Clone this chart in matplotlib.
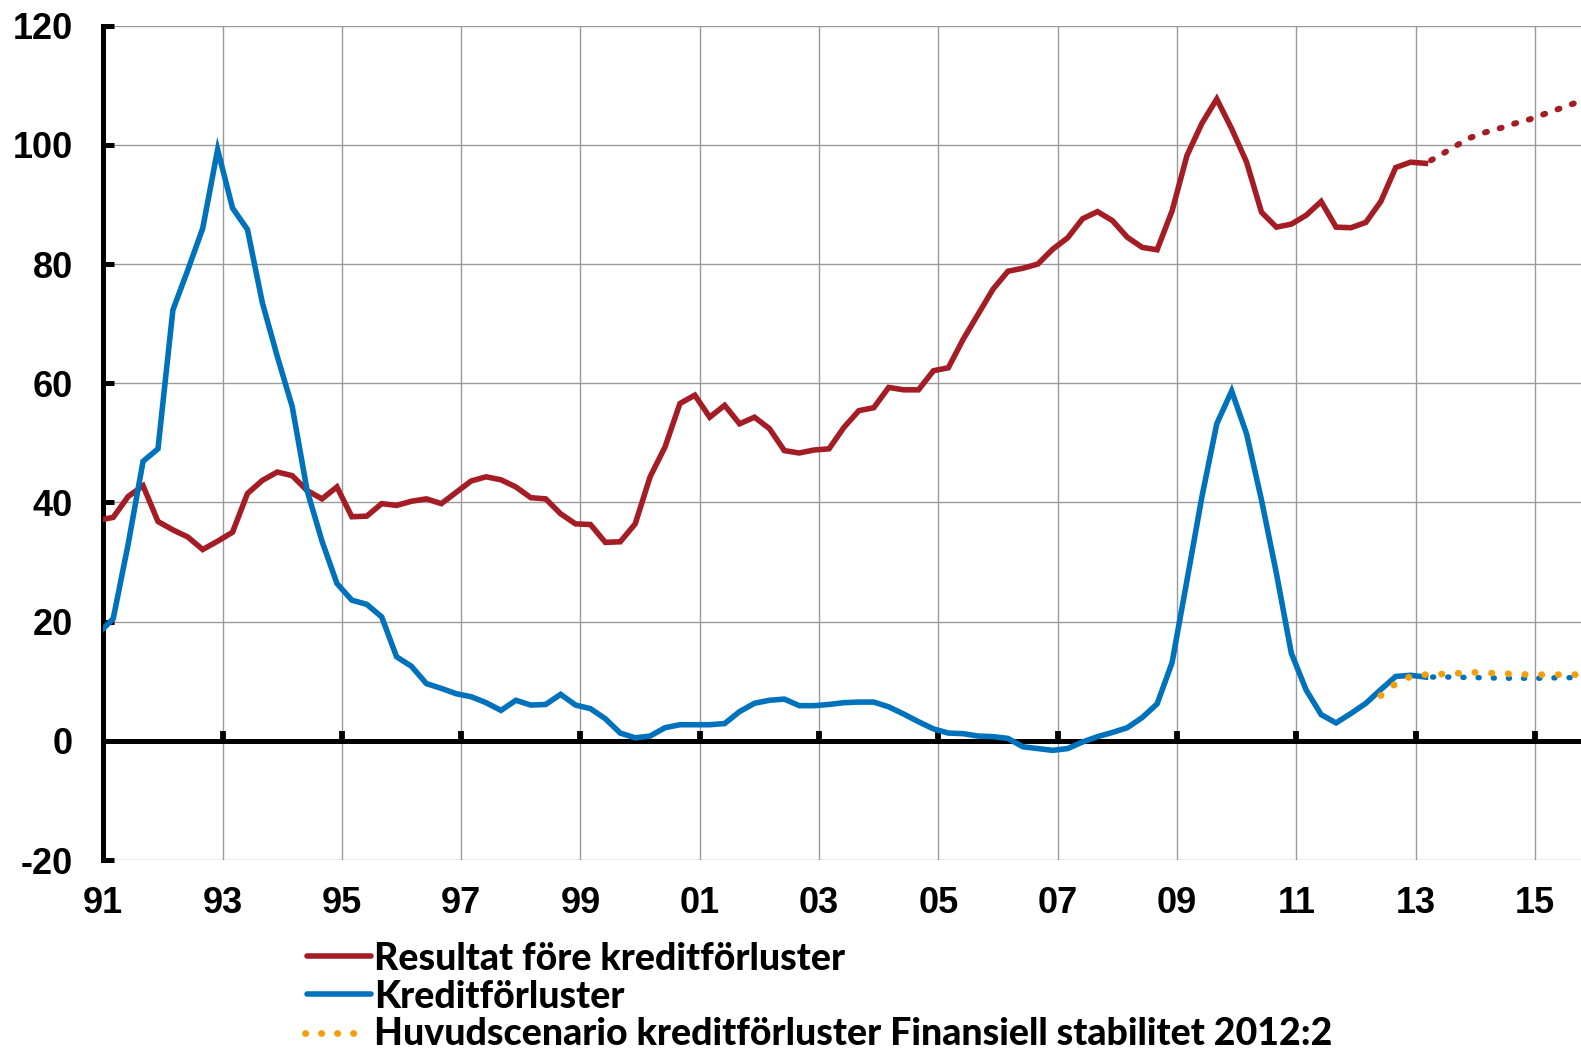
import numpy as np
import matplotlib

matplotlib.use("Agg")
import matplotlib.pyplot as plt  # noqa: E402
from matplotlib.lines import Line2D  # noqa: E402

RED = "#A51D24"
BLUE = "#0072BC"
ORANGE = "#F59D0A"
GRID = "#9A9A9A"
TICK_FONT = ["Liberation Sans", "DejaVu Sans"]
LEG_FONT = ["Lato", "DejaVu Sans"]

# quarterly series, first value 1990 Q4 (plotted at the quarter's last month)
resultat = [
    37.0, 37.5, 41.0, 42.8, 36.8, 35.4, 34.2, 32.1, 33.5, 35.0,
    41.5, 43.7, 45.1, 44.5, 42.0, 40.6, 42.6, 37.6, 37.7, 39.8,
    39.5, 40.2, 40.6, 39.8, 41.7, 43.6, 44.3, 43.8, 42.6, 40.8,
    40.6, 38.1, 36.4, 36.3, 33.3, 33.4, 36.4, 44.3, 49.3, 56.6,
    58.0, 54.3, 56.3, 53.2, 54.3, 52.4, 48.7, 48.3, 48.8, 49.0,
    52.6, 55.4, 55.9, 59.3, 58.9, 58.9, 62.1, 62.6, 67.4, 71.6,
    75.8, 78.8, 79.3, 80.0, 82.5, 84.4, 87.6, 88.8, 87.3, 84.5,
    82.8, 82.4, 88.9, 98.2, 103.6, 107.7, 102.7, 97.1, 88.7, 86.2,
    86.7, 88.2, 90.5, 86.2, 86.1, 87.0, 90.5, 96.2, 97.1, 96.9,
]
kredit = [
    18.0, 20.5, 33.0, 46.9, 49.0, 72.3, 79.0, 86.0, 99.2, 89.4,
    85.8, 73.5, 64.5, 56.1, 42.0, 33.5, 26.4, 23.6, 22.9, 20.8,
    14.1, 12.5, 9.6, 8.8, 7.9, 7.4, 6.4, 5.1, 6.8, 6.0,
    6.1, 7.8, 6.0, 5.4, 3.7, 1.3, 0.5, 0.8, 2.2, 2.7,
    2.7, 2.7, 2.9, 4.9, 6.3, 6.8, 7.0, 5.9, 5.9, 6.1,
    6.4, 6.5, 6.5, 5.7, 4.5, 3.2, 2.0, 1.3, 1.2, 0.8,
    0.7, 0.4, -1.0, -1.3, -1.6, -1.3, -0.2, 0.7, 1.4, 2.2,
    3.9, 6.2, 13.1, 26.9, 40.9, 53.2, 58.7, 51.5, 40.4, 28.1,
    14.7, 8.5, 4.4, 3.0, 4.6, 6.3, 8.6, 10.8, 11.0, 10.7,
]
# forecasts, first value 2013 Q1
resultat_prognos = [96.9, 98.3, 99.8, 101.2, 102.1, 102.8, 103.6, 104.3,
                    105.2, 106.1, 107.0, 107.8]
kredit_prognos = [10.7, 10.7, 10.7, 10.6, 10.6, 10.5, 10.5, 10.5,
                  10.5, 10.6, 10.6, 10.6]
# Finansiell stabilitet 2012:2, first value 2012 Q2
fs_scenario = [7.6, 9.6, 10.8, 11.1, 11.2, 11.3, 11.5, 11.4, 11.3,
               11.2, 11.1, 11.1, 11.1, 11.1, 11.1]

year_ticks = list(range(1991, 2016, 2))
y_ticks = [-20, 0, 20, 40, 60, 80, 100, 120]

labels = ["Resultat före kreditförluster", "Kreditförluster",
          "Huvudscenario kreditförluster Finansiell stabilitet 2012:2"]


def quarter_pos(year, quarter, n):
    start = year + (3 * quarter - 1) / 12
    return start + 0.25 * np.arange(n)


def main():
    plt.rcParams.update({
        "font.family": TICK_FONT, "font.weight": "bold", "font.size": 26,
    })
    W, H = 1581, 1048
    fig = plt.figure(figsize=(W / 100, H / 100), dpi=100)
    ax = fig.add_axes([103.3 / W, 1 - 860 / H, (W - 103.3) / W, (860 - 25.7) / H])

    dotted = dict(dash_capstyle="round", solid_capstyle="round")
    ax.plot(quarter_pos(1990, 4, len(resultat)), resultat, color=RED, lw=4.0,
            solid_joinstyle="miter", zorder=3)
    ax.plot(quarter_pos(2013, 1, len(resultat_prognos)), resultat_prognos, color=RED,
            lw=4.3, ls=(1.5, (0.35, 2.2)), zorder=3, **dotted)
    ax.plot(quarter_pos(1990, 4, len(kredit)), kredit, color=BLUE, lw=4.0,
            solid_joinstyle="miter", zorder=4)
    ax.plot(quarter_pos(2013, 1, len(kredit_prognos)), kredit_prognos, color=BLUE,
            lw=3.9, ls=(1.5, (0.2, 2.6)), zorder=4, **dotted)
    ax.plot(quarter_pos(2012, 2, len(fs_scenario)), fs_scenario, color=ORANGE,
            lw=4.9, ls=(0, (0.05, 2.4)), zorder=5, **dotted)

    ax.set_xlim(1991, 1991 + (W - 103.3) / 59.65)
    ax.set_ylim(-20, 120)
    ax.set_xticks(year_ticks)
    ax.set_xticklabels([f"{y % 100:02d}" for y in year_ticks],
                       fontsize=26, fontweight="bold", family=TICK_FONT)
    ax.set_yticks(y_ticks)
    ax.set_yticklabels([str(v) for v in y_ticks],
                       fontsize=26, fontweight="bold", family=TICK_FONT)
    ax.grid(True, color=GRID, lw=1.0, zorder=0)
    ax.set_axisbelow(True)
    for s in ("top", "right", "bottom"):
        ax.spines[s].set_visible(False)
    ax.spines["left"].set_linewidth(3.6)
    ax.spines["left"].set_color("black")
    ax.tick_params(axis="y", direction="in", length=8, width=3.6, pad=22)
    ax.tick_params(axis="x", length=0, pad=19)

    ax.axhline(0, color="black", lw=3.6, zorder=2)
    ax.plot(year_ticks[1:], np.zeros(len(year_ticks) - 1), ls="none", marker=2,
            ms=7, mew=4.2, color="black", zorder=2, clip_on=False)

    # legend below the plot
    rows = [(956, 970, RED, "-"), (994, 1007.5, BLUE, "-"),
            (1032.5, 1045, ORANGE, (0, (0.05, 2.3)))]
    for (yl, yb, col, style), text in zip(rows, labels):
        lw = 4.0 if style == "-" else 4.9
        x0, x1 = (307, 371) if style == "-" else (305, 362)
        fig.add_artist(Line2D([x0 / W, x1 / W], [1 - yl / H, 1 - yl / H],
                              transform=fig.transFigure, color=col, lw=lw,
                              ls=style, solid_capstyle="round",
                              dash_capstyle="round"))
        fig.text(374 / W, 1 - yb / H, text, ha="left", va="baseline", fontsize=27,
                 fontweight="black", family=LEG_FONT, color="black")

    fig.savefig("out.png", dpi=100)


if __name__ == "__main__":
    main()
